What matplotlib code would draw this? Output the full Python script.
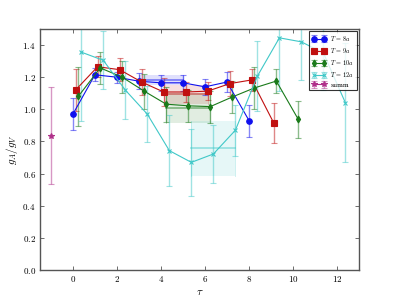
import matplotlib
matplotlib.use("Agg")
import matplotlib.pyplot as plt
from matplotlib.ticker import FuncFormatter, MultipleLocator
import numpy as np

plt.rcParams['mathtext.fontset'] = 'cm'
plt.rcParams['font.family'] = 'serif'
plt.rcParams['font.serif'] = ['DejaVu Serif']

# T = 8a
t8 = [0, 1, 2, 3, 4, 5, 6, 7, 8]
v8 = [0.97, 1.215, 1.20, 1.175, 1.165, 1.165, 1.14, 1.17, 0.93]
e8 = [0.10, 0.04, 0.035, 0.05, 0.05, 0.05, 0.05, 0.06, 0.10]
# T = 9a
t9 = [0.12, 1.12, 2.12, 3.12, 4.12, 5.12, 6.12, 7.12, 8.12, 9.12]
v9 = [1.12, 1.265, 1.247, 1.17, 1.108, 1.108, 1.113, 1.16, 1.183, 0.916]
e9 = [0.13, 0.065, 0.07, 0.08, 0.09, 0.065, 0.055, 0.08, 0.07, 0.126]
# T = 10a
t10 = [0.24, 1.24, 2.24, 3.24, 4.24, 5.24, 6.24, 7.24, 8.24, 9.24, 10.24]
v10 = [1.08, 1.258, 1.20, 1.113, 1.032, 1.022, 1.017, 1.077, 1.133, 1.176, 0.937]
e10 = [0.185, 0.10, 0.10, 0.11, 0.11, 0.10, 0.10, 0.10, 0.13, 0.075, 0.115]
# T = 12a
t12 = [0.38, 1.38, 2.38, 3.38, 4.38, 5.38, 6.38, 7.38, 8.38, 9.38, 10.38, 11.38, 12.38]
v12 = [1.356, 1.305, 1.12, 0.97, 0.743, 0.67, 0.722, 0.87, 1.207, 1.445, 1.42, 1.35, 1.04]
e12 = [0.43, 0.18, 0.18, 0.175, 0.22, 0.21, 0.18, 0.16, 0.22, 0.33, 0.235, 0.23, 0.37]
# summ
ts = [-1.0]
vs = [0.836]
es = [0.30]

# fit bands: (t_start, t_end, center, half-width)
band8 = [3.0, 5.0, 1.183, 0.03]
band9 = [4.12, 6.12, 1.093, 0.06]
band10 = [4.24, 6.24, 1.011, 0.093]
band12 = [5.38, 7.38, 0.757, 0.172]

labels = [r'$T\,=\,8a$', r'$T\,=\,9a$', r'$T\,=\,10a$', r'$T\,=\,12a$', 'summ']
colors = ['#1010ee', '#c01010', '#1a7a1a', '#40c8c8', '#b0308a']
markers = ['o', 's', 'd', 'x', '*']

fig = plt.figure(figsize=(3.99, 2.99), dpi=100)
ax = fig.add_axes([0.1, 0.097, 0.8, 0.806])

series = [(t8, v8, e8), (t9, v9, e9), (t10, v10, e10), (t12, v12, e12), (ts, vs, es)]
msizes = [4, 4, 3.5, 3.5, 4]
for (t, v, e), c, m, lab, ms in zip(series, colors, markers, labels, msizes):
    eb = ax.errorbar(t, v, yerr=e, color=c, marker=m, ms=ms, lw=0.8,
                     elinewidth=1.0, capsize=2, capthick=0.8, label=lab,
                     mec=c, mew=0.8)
    for bar in eb[2]:
        bar.set_alpha(0.5)
    for cap in eb[1]:
        cap.set_alpha(0.5)

for b, c in zip([band8, band9, band10, band12], colors[:4]):
    x0, x1, cen, hw = b
    ax.fill_between([x0, x1], [cen - hw] * 2, [cen + hw] * 2, color=c, alpha=0.13, lw=0)
    ax.plot([x0, x1], [cen, cen], color=c, lw=1.2, alpha=0.5)
    ax.plot([x0, x0], [cen - hw, cen + hw], color=c, lw=0.6, alpha=0.3)
    ax.plot([x1, x1], [cen - hw, cen + hw], color=c, lw=0.6, alpha=0.3)

ax.set_xlim(-1.5, 13)
ax.set_ylim(0.0, 1.5)
ax.xaxis.set_major_locator(MultipleLocator(2))
ax.yaxis.set_major_locator(MultipleLocator(0.2))
ax.xaxis.set_major_formatter(FuncFormatter(lambda x, p: r'$%d$' % round(x)))
ax.yaxis.set_major_formatter(FuncFormatter(lambda y, p: r'$%.1f$' % y))
ax.tick_params(direction='in', top=True, right=True, labelsize=6.5, length=3,
               width=0.6, color='#555555', pad=3)
for s in ax.spines.values():
    s.set_color('#555555')
    s.set_linewidth(1.0)

ax.set_xlabel(r'$\tau$', fontsize=8, labelpad=2)
ax.set_ylabel(r'$g_A/g_V$', fontsize=8, labelpad=2)

leg = ax.legend(loc='upper right', fontsize=4.5, numpoints=2, frameon=True,
                fancybox=False, borderaxespad=0.35, handlelength=2.2,
                labelspacing=0.5, borderpad=0.4)
leg.get_frame().set_edgecolor('black')
leg.get_frame().set_linewidth(0.8)

fig.savefig('out.png', dpi=100)
